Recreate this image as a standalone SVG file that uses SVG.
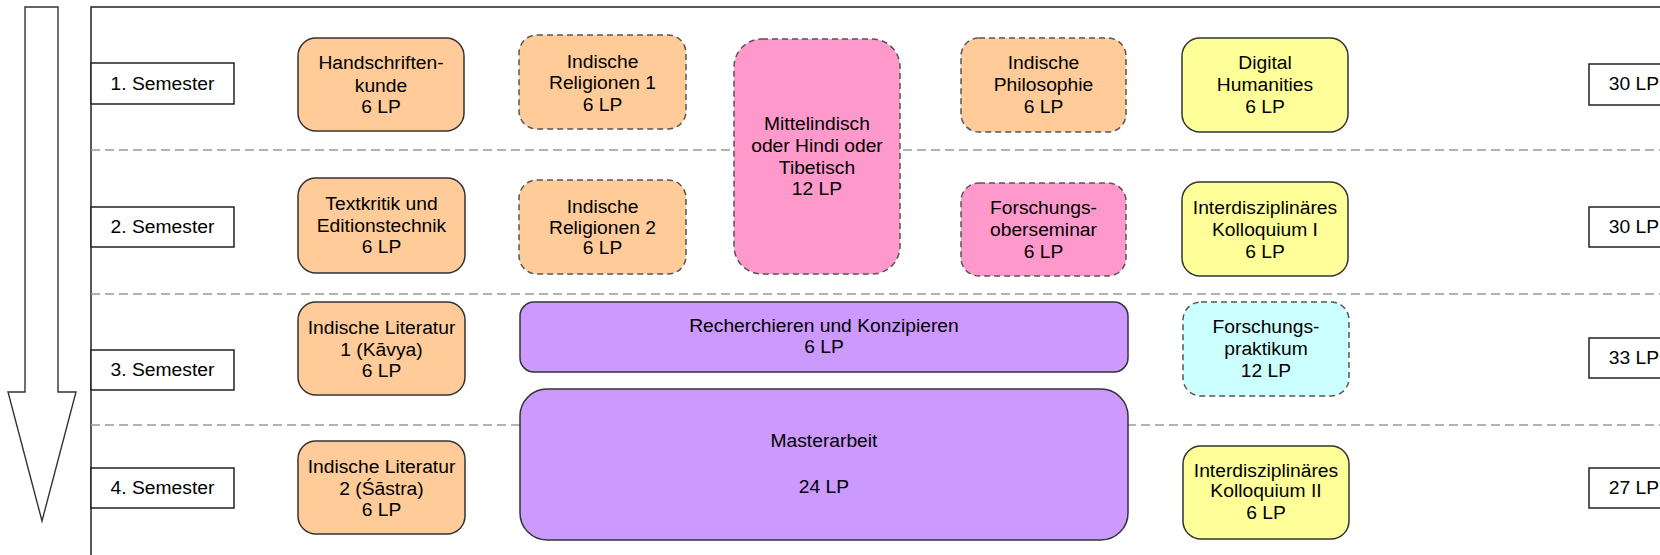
<svg xmlns="http://www.w3.org/2000/svg" width="1660" height="555" viewBox="0 0 1660 555">
<style>
.t { font-family: "Liberation Sans", Arial, sans-serif; font-size: 18px; fill: #000; text-anchor: middle; transform-box: fill-box; transform-origin: center; transform: scaleX(1.07); }
.sem { fill: #fff; stroke: #222; stroke-width: 1.5; }
.box { stroke: #333; stroke-width: 1.5; }
.dash { stroke-dasharray: 6 4; stroke: #555; }
.or { fill: #FFCC99; }
.pk { fill: #FF99CC; }
.ye { fill: #FFFF99; }
.cy { fill: #CCFFFF; }
.pu { fill: #CC99FF; }
.sep { stroke: #999; stroke-width: 1.5; stroke-dasharray: 9 5; fill: none; }
</style>
<rect width="1660" height="555" fill="#fff"/>
<g id="arrow">
<path d="M25,7 L58,7 L58,392 L76,392 L42,521 L8,392 L25,392 Z" fill="#fff" stroke="#333" stroke-width="1.4"/>
</g>
<g id="frame">
<path d="M91,555 L91,7 L1660,7" fill="none" stroke="#222" stroke-width="1.5"/>
</g>
<g id="separators">
<line class="sep" x1="91" y1="150" x2="1660" y2="150"/>
<line class="sep" x1="91" y1="294" x2="1660" y2="294"/>
<line class="sep" x1="91" y1="425" x2="1660" y2="425"/>
</g>
<g id="sem1"><rect class="sem" x="91" y="63" width="143" height="41"/><text class="t" x="162.5" y="90">1. Semester</text></g>
<g id="sem2"><rect class="sem" x="91" y="207" width="143" height="40"/><text class="t" x="162.5" y="233">2. Semester</text></g>
<g id="sem3"><rect class="sem" x="91" y="350" width="143" height="40"/><text class="t" x="162.5" y="376">3. Semester</text></g>
<g id="sem4"><rect class="sem" x="91" y="468" width="143" height="40"/><text class="t" x="162.5" y="494">4. Semester</text></g>
<g id="lp1"><rect class="sem" x="1589" y="64" width="120" height="41"/><text class="t" x="1634" y="90">30 LP</text></g>
<g id="lp2"><rect class="sem" x="1589" y="207" width="120" height="40"/><text class="t" x="1634" y="233">30 LP</text></g>
<g id="lp3"><rect class="sem" x="1589" y="338" width="120" height="40"/><text class="t" x="1634" y="364">33 LP</text></g>
<g id="lp4"><rect class="sem" x="1589" y="468" width="120" height="40"/><text class="t" x="1634" y="494">27 LP</text></g>
<g id="handschriften"><rect class="box or" x="298" y="38" width="166" height="93" rx="18"/><text class="t" x="381" y="69">Handschriften-</text><text class="t" x="381" y="92">kunde</text><text class="t" x="381" y="113">6 LP</text></g>
<g id="religionen1"><rect class="box or dash" x="519" y="35" width="167" height="94" rx="18"/><text class="t" x="602.5" y="68">Indische</text><text class="t" x="602.5" y="89">Religionen 1</text><text class="t" x="602.5" y="111">6 LP</text></g>
<g id="mittelindisch"><rect class="box pk dash" x="734" y="39" width="166" height="235" rx="28"/><text class="t" x="817" y="130">Mittelindisch</text><text class="t" x="817" y="152">oder Hindi oder</text><text class="t" x="817" y="174">Tibetisch</text><text class="t" x="817" y="195">12 LP</text></g>
<g id="philosophie"><rect class="box or dash" x="961" y="38" width="165" height="94" rx="18"/><text class="t" x="1043.5" y="69">Indische</text><text class="t" x="1043.5" y="91">Philosophie</text><text class="t" x="1043.5" y="113">6 LP</text></g>
<g id="digital"><rect class="box ye" x="1182" y="38" width="166" height="94" rx="18"/><text class="t" x="1265" y="69">Digital</text><text class="t" x="1265" y="91">Humanities</text><text class="t" x="1265" y="113">6 LP</text></g>
<g id="textkritik"><rect class="box or" x="298" y="178" width="167" height="95" rx="18"/><text class="t" x="381.5" y="210">Textkritik und</text><text class="t" x="381.5" y="232">Editionstechnik</text><text class="t" x="381.5" y="253">6 LP</text></g>
<g id="religionen2"><rect class="box or dash" x="519" y="180" width="167" height="94" rx="18"/><text class="t" x="602.5" y="213">Indische</text><text class="t" x="602.5" y="234">Religionen 2</text><text class="t" x="602.5" y="254">6 LP</text></g>
<g id="oberseminar"><rect class="box pk dash" x="961" y="183" width="165" height="93" rx="18"/><text class="t" x="1043.5" y="214">Forschungs-</text><text class="t" x="1043.5" y="236">oberseminar</text><text class="t" x="1043.5" y="258">6 LP</text></g>
<g id="kolloquium1"><rect class="box ye" x="1182" y="182" width="166" height="94" rx="18"/><text class="t" x="1265" y="214">Interdisziplinäres</text><text class="t" x="1265" y="236">Kolloquium I</text><text class="t" x="1265" y="258">6 LP</text></g>
<g id="literatur1"><rect class="box or" x="298" y="302" width="167" height="93" rx="18"/><text class="t" x="381.5" y="334">Indische Literatur</text><text class="t" x="381.5" y="356">1 (Kāvya)</text><text class="t" x="381.5" y="377">6 LP</text></g>
<g id="recherchieren"><rect class="box pu" x="520" y="302" width="608" height="70" rx="14"/><text class="t" x="824" y="332">Recherchieren und Konzipieren</text><text class="t" x="824" y="353">6 LP</text></g>
<g id="praktikum"><rect class="box cy dash" x="1183" y="302" width="166" height="94" rx="18"/><text class="t" x="1266" y="333">Forschungs-</text><text class="t" x="1266" y="355">praktikum</text><text class="t" x="1266" y="377">12 LP</text></g>
<g id="literatur2"><rect class="box or" x="298" y="441" width="167" height="93" rx="18"/><text class="t" x="381.5" y="473">Indische Literatur</text><text class="t" x="381.5" y="495">2 (Śāstra)</text><text class="t" x="381.5" y="516">6 LP</text></g>
<g id="masterarbeit"><rect class="box pu" x="520" y="389" width="608" height="151" rx="27"/><text class="t" x="824" y="447">Masterarbeit</text><text class="t" x="824" y="493">24 LP</text></g>
<g id="kolloquium2"><rect class="box ye" x="1183" y="446" width="166" height="93" rx="18"/><text class="t" x="1266" y="477">Interdisziplinäres</text><text class="t" x="1266" y="497">Kolloquium II</text><text class="t" x="1266" y="519">6 LP</text></g>
</svg>
